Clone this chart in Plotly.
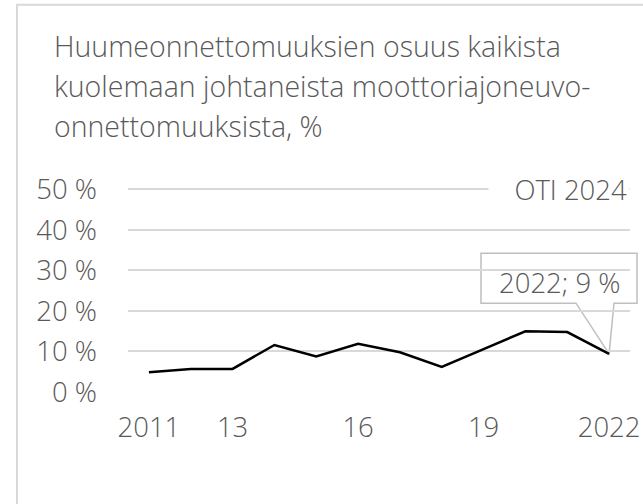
import plotly.graph_objects as go

# ---- data ----
years = [2011, 2012, 2013, 2014, 2015, 2016, 2017, 2018, 2019, 2020, 2021, 2022]
share_pct = [4.9, 5.7, 5.7, 11.6, 8.8, 11.9, 9.8, 6.2, 10.6, 15.0, 14.8, 9.4]
x_tick_vals = [2011, 2013, 2016, 2019, 2022]
x_tick_text = ["2011", "13", "16", "19", "2022"]
y_tick_vals = [0, 10, 20, 30, 40, 50]
y_tick_text = [f"{v} %" for v in y_tick_vals]
title_lines = [
    "Huumeonnettomuuksien osuus kaikista",
    "kuolemaan johtaneista moottoriajoneuvo-",
    "onnettomuuksista, %",
]
source_text = "OTI 2024"
callout_text = "2022; 9 %"

# ---- layout geometry (pixels) ----
W, H = 643, 504
L, R = 128, 630
PX_PER_PCT = 4.06
B = 392
XMIN, XMAX = 2010.5, 2022.5
YMIN, YMAX = 0, 50.6
T = B - (YMAX - YMIN) * PX_PER_PCT
FONT = "Open Sans"
FS = 27.5
FS_TITLE = 28.5
GREY = "#595959"
WEIGHT = 350


def px_x(px):
    return (px - L) / (R - L)


def px_y(py):
    return (B - py) / (B - T)


def data_px(xv, yv):
    return (L + (xv - XMIN) / (XMAX - XMIN) * (R - L),
            B - (yv - YMIN) / (YMAX - YMIN) * (B - T))


def font(size=FS):
    return dict(family=FONT, size=size, color=GREY, weight=WEIGHT)


fig = go.Figure()
fig.add_trace(go.Scatter(
    x=years, y=share_pct, mode="lines",
    line=dict(color="#000000", width=2.5),
    hoverinfo="skip", showlegend=False,
))

shapes = []
# outer frame (light grey border, left and top visible)
shapes.append(dict(
    type="rect", xref="paper", yref="paper",
    x0=px_x(17), x1=px_x(660), y0=px_y(520), y1=px_y(4),
    line=dict(color="#d9d9d9", width=2), fillcolor="rgba(0,0,0,0)",
    layer="below",
))

# callout box with wedge pointing at the last data point
tip_x, tip_y = data_px(years[-1], share_pct[-1])
bx0, bx1, by0, by1 = 481, 637, 253, 303
wx0, wx1 = 576, 614
pts = [(bx0, by0), (bx1, by0), (bx1, by1), (wx1, by1), (tip_x, tip_y),
       (wx0, by1), (bx0, by1)]
path = "M " + " L ".join(f"{px_x(a):.5f},{px_y(b):.5f}" for a, b in pts) + " Z"
shapes.append(dict(
    type="path", xref="paper", yref="paper", path=path,
    fillcolor="#ffffff", line=dict(color="#bfbfbf", width=1.5),
    layer="between",
))

annotations = []
for i, line in enumerate(title_lines):
    annotations.append(dict(
        text=line, xref="paper", yref="paper",
        x=px_x(52), y=px_y(45 + 40 * i), xanchor="left", yanchor="middle",
        showarrow=False, font=font(FS_TITLE),
    ))

annotations.append(dict(
    text=source_text, xref="paper", yref="paper",
    x=px_x(630), y=px_y(189), xanchor="right", yanchor="middle",
    width=136, align="right", bgcolor="#ffffff", borderpad=2,
    showarrow=False, font=font(),
))

annotations.append(dict(
    text=callout_text, xref="paper", yref="paper",
    x=px_x((bx0 + bx1) / 2 + 1), y=px_y(282), xanchor="center", yanchor="middle",
    showarrow=False, font=font(),
))

fig.update_layout(
    width=W, height=H,
    margin=dict(l=L, r=W - R, t=T, b=H - B, pad=0),
    paper_bgcolor="#ffffff", plot_bgcolor="#ffffff",
    font=font(),
    shapes=shapes, annotations=annotations,
    showlegend=False,
)
fig.update_xaxes(
    range=[XMIN, XMAX], tickmode="array", tickvals=x_tick_vals,
    ticktext=x_tick_text, showgrid=False, zeroline=False, showline=False,
    ticks="", ticklabelstandoff=16, automargin=False,
    tickfont=font(),
)
fig.update_yaxes(
    range=[YMIN, YMAX], tickmode="array", tickvals=y_tick_vals,
    ticktext=y_tick_text, showgrid=True, gridcolor="#d9d9d9", gridwidth=1.5,
    zeroline=False, showline=False, ticks="", ticklabelstandoff=30,
    automargin=False, tickfont=font(),
)

fig.write_html("out.html", config={"displayModeBar": False},
               post_script="document.body.style.margin='0';")
